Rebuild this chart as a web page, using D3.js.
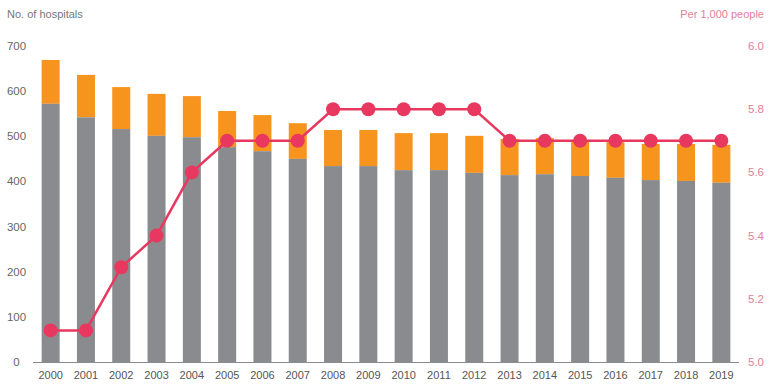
<!DOCTYPE html>
<html>
<head>
<meta charset="utf-8">
<script src="https://cdn.jsdelivr.net/npm/d3@7"></script>
<style>
  body { margin: 0; background: #fff; }
  svg { font-family: "Liberation Sans", Arial, sans-serif; }
</style>
</head>
<body>
<svg id="chart" width="775" height="387"></svg>
<script>
var years = ["2000","2001","2002","2003","2004","2005","2006","2007","2008","2009",
             "2010","2011","2012","2013","2014","2015","2016","2017","2018","2019"];
// grey part of the bar and total bar height (no. of hospitals)
var greyValues  = [572, 542, 516, 501, 498, 476, 467, 450, 434, 434,
                   425, 425, 419, 414, 416, 412, 408, 403, 401, 397];
var totalValues = [669, 636, 609, 594, 589, 556, 547, 529, 514, 514,
                   507, 507, 501, 494, 496, 492, 487, 483, 483, 481];
// per 1,000 people (right axis)
var perThousand = [5.1, 5.1, 5.3, 5.4, 5.6, 5.7, 5.7, 5.7, 5.8, 5.8,
                   5.8, 5.8, 5.8, 5.7, 5.7, 5.7, 5.7, 5.7, 5.7, 5.7];
var leftTicks = [0, 100, 200, 300, 400, 500, 600, 700];
var rightTicks = [5.0, 5.2, 5.4, 5.6, 5.8, 6.0];

var svg = d3.select("#chart");
var plotTop = 46, plotBottom = 362, plotLeft = 33, plotRight = 739;

var x = d3.scaleBand()
  .domain(years)
  .range([plotLeft, plotRight])
  .paddingInner(0.49)
  .paddingOuter(0.245);

var y = d3.scaleLinear().domain([0, 700]).range([plotBottom, plotTop]);
var y2 = d3.scaleLinear().domain([5.0, 6.0]).range([plotBottom, plotTop]);

var rows = years.map(function(yr, i) {
  return { year: yr, grey: greyValues[i], total: totalValues[i], rate: perThousand[i] };
});

// orange part (total)
svg.append("g").selectAll("rect")
  .data(rows)
  .enter().append("rect")
  .attr("x", function(d) { return x(d.year); })
  .attr("width", x.bandwidth())
  .attr("y", function(d) { return y(d.total); })
  .attr("height", function(d) { return y(d.grey) - y(d.total); })
  .style("fill", "#f7941d");

// grey part
svg.append("g").selectAll("rect")
  .data(rows)
  .enter().append("rect")
  .attr("x", function(d) { return x(d.year); })
  .attr("width", x.bandwidth())
  .attr("y", function(d) { return y(d.grey); })
  .attr("height", function(d) { return y(0) - y(d.grey); })
  .style("fill", "#8a8b8e");

// baseline
svg.append("line")
  .attr("x1", plotLeft).attr("x2", plotRight)
  .attr("y1", plotBottom + 0.5).attr("y2", plotBottom + 0.5)
  .style("stroke", "#8a8b8e")
  .style("stroke-width", 1);

// x axis labels
svg.append("g").selectAll("text")
  .data(years)
  .enter().append("text")
  .attr("x", function(d) { return x(d) + x.bandwidth() / 2; })
  .attr("y", 379)
  .attr("text-anchor", "middle")
  .style("font-size", "11px")
  .style("fill", "#555")
  .text(function(d) { return d; });

// left axis
svg.append("g").selectAll("text")
  .data(leftTicks)
  .enter().append("text")
  .attr("x", 16.5)
  .attr("y", function(d) { return y(d) + 4; })
  .attr("text-anchor", "middle")
  .style("font-size", "11.5px")
  .style("fill", "#666")
  .text(function(d) { return d; });

// right axis
svg.append("g").selectAll("text")
  .data(rightTicks)
  .enter().append("text")
  .attr("x", 756)
  .attr("y", function(d) { return y2(d) + 4; })
  .attr("text-anchor", "middle")
  .style("font-size", "11.5px")
  .style("fill", "#e2809a")
  .text(function(d) { return d3.format(".1f")(d); });

svg.append("text")
  .attr("x", 7).attr("y", 18)
  .style("font-size", "11px")
  .style("fill", "#777")
  .text("No. of hospitals");

svg.append("text")
  .attr("x", 764).attr("y", 18)
  .attr("text-anchor", "end")
  .style("font-size", "11px")
  .style("fill", "#e2809a")
  .text("Per 1,000 people");

// line + markers
var line = d3.line()
  .x(function(d) { return x(d.year) + x.bandwidth() / 2; })
  .y(function(d) { return y2(d.rate); });

svg.append("path")
  .datum(rows)
  .attr("d", line)
  .style("fill", "none")
  .style("stroke", "#e8385f")
  .style("stroke-width", 2.5);

svg.append("g").selectAll("circle")
  .data(rows)
  .enter().append("circle")
  .attr("cx", function(d) { return x(d.year) + x.bandwidth() / 2; })
  .attr("cy", function(d) { return y2(d.rate); })
  .attr("r", 7)
  .style("fill", "#e8385f");
</script>
</body>
</html>
